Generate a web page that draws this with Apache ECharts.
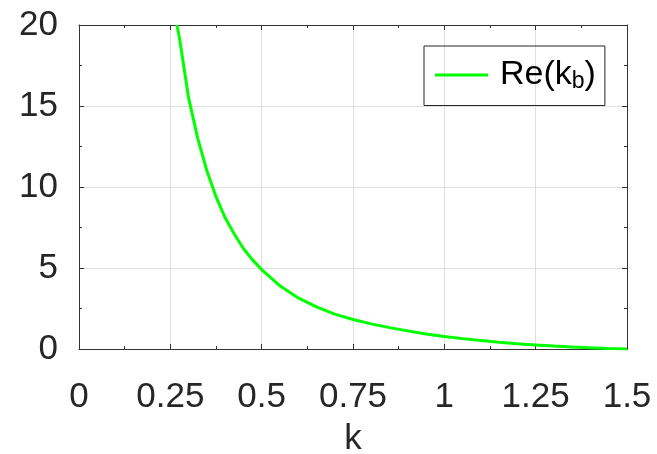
<!DOCTYPE html>
<html>
<head>
<meta charset="utf-8">
<script src="https://cdn.jsdelivr.net/npm/echarts@6/dist/echarts.min.js"></script>
<style>
    html, body { margin: 0; padding: 0; background: #fff; }
    #main { width: 657px; height: 454px; }
</style>
</head>
<body>
<div id="main"></div>
<script>
// 横轴 k
var kValues = [0.268, 0.275, 0.3, 0.325, 0.35, 0.375, 0.4, 0.425, 0.45, 0.475, 0.5,
    0.55, 0.6, 0.65, 0.7, 0.75, 0.8, 0.85, 0.9, 0.95, 1.0,
    1.05, 1.1, 1.15, 1.2, 1.25, 1.3, 1.35, 1.4, 1.45, 1.5];
// Re(k_b)
var reKb = [20, 19.2, 15.5, 13.0, 11.0, 9.4, 8.1, 7.1, 6.2, 5.5, 4.9,
    3.9, 3.15, 2.6, 2.15, 1.82, 1.55, 1.32, 1.12, 0.93, 0.77,
    0.64, 0.52, 0.42, 0.33, 0.25, 0.18, 0.12, 0.07, 0.03, 0.0];
var xTicks = [0, 0.25, 0.5, 0.75, 1, 1.25, 1.5];
var yTicks = [0, 5, 10, 15, 20];

function 画图() {
    var chart = echarts.init(document.getElementById('main'));
    var font = 'Liberation Sans, Arial, sans-serif';
    var txtColor = '#262626';

    var data = [];
    for (var i = 0; i < kValues.length; i++) {
        data.push([kValues[i], reKb[i]]);
    }

    function xLabel(v) {
        for (var i = 0; i < xTicks.length; i++) {
            if (Math.abs(xTicks[i] - v) < 1e-9) return String(xTicks[i]);
        }
        return '';
    }

    // 四周都要刻度（朝内）
    var boxX = {
        min: 0, max: 1.5, interval: 0.25,
        axisLine: { show: true, onZero: false, lineStyle: { color: '#333', width: 1 } },
        axisTick: { show: true, inside: true, length: 5, lineStyle: { color: '#333' } },
        minorTick: { show: true, splitNumber: 2, length: 3, lineStyle: { color: '#333' } }
    };
    var boxY = {
        min: 0, max: 20, interval: 5,
        axisLine: { show: true, onZero: false, lineStyle: { color: '#333', width: 1 } },
        axisTick: { show: true, inside: true, length: 5, lineStyle: { color: '#333' } },
        minorTick: { show: true, splitNumber: 2, length: 3, lineStyle: { color: '#333' } }
    };

    var option = {
        backgroundColor: '#fff',
        animation: false,
        grid: { left: 79, right: 30, top: 25, bottom: 105, containLabel: false, outerBoundsMode: 'none' },
        legend: {
            left: 424,
            top: 46,
            padding: [12, 9, 12, 11],
            borderColor: '#262626',
            borderWidth: 1,
            icon: 'rect',
            itemWidth: 53,
            itemHeight: 3,
            data: ['Re(k_b)'],
            formatter: 'Re(k{sub|b})',
            textStyle: {
                fontFamily: font,
                fontSize: 34,
                color: '#000',
                padding: [0, 0, 0, 7],
                rich: {
                    sub: { fontFamily: font, fontSize: 23, color: '#000', padding: [14, 0, 0, 0] }
                }
            }
        },
        xAxis: [
            Object.assign({}, boxX, {
                type: 'value',
                position: 'bottom',
                name: 'k',
                nameLocation: 'middle',
                nameGap: 73,
                nameTextStyle: { fontFamily: font, fontSize: 35, color: txtColor },
                axisLabel: {
                    fontFamily: font, fontSize: 35, color: txtColor, margin: 31,
                    formatter: xLabel
                },
                splitLine: { show: true, lineStyle: { color: '#dfdfdf', width: 1 } }
            }),
            Object.assign({}, boxX, {
                type: 'value',
                position: 'top',
                axisLabel: { show: false },
                splitLine: { show: false }
            })
        ],
        yAxis: [
            Object.assign({}, boxY, {
                type: 'value',
                position: 'left',
                axisLabel: {
                    fontFamily: font, fontSize: 35, color: txtColor, margin: 21,
                    formatter: function (v) { return yTicks.indexOf(v) >= 0 ? String(v) : ''; }
                },
                splitLine: { show: true, lineStyle: { color: '#dfdfdf', width: 1 } }
            }),
            Object.assign({}, boxY, {
                type: 'value',
                position: 'right',
                axisLabel: { show: false },
                splitLine: { show: false }
            })
        ],
        series: [
            {
                name: 'Re(k_b)',
                type: 'line',
                xAxisIndex: 0,
                yAxisIndex: 0,
                data: data,
                symbol: 'none',
                showSymbol: false,
                smooth: false,
                clip: true,
                lineStyle: { color: '#00ff00', width: 3 },
                itemStyle: { color: '#00ff00' }
            }
        ]
    };
    chart.setOption(option);
}

画图();
</script>
</body>
</html>
